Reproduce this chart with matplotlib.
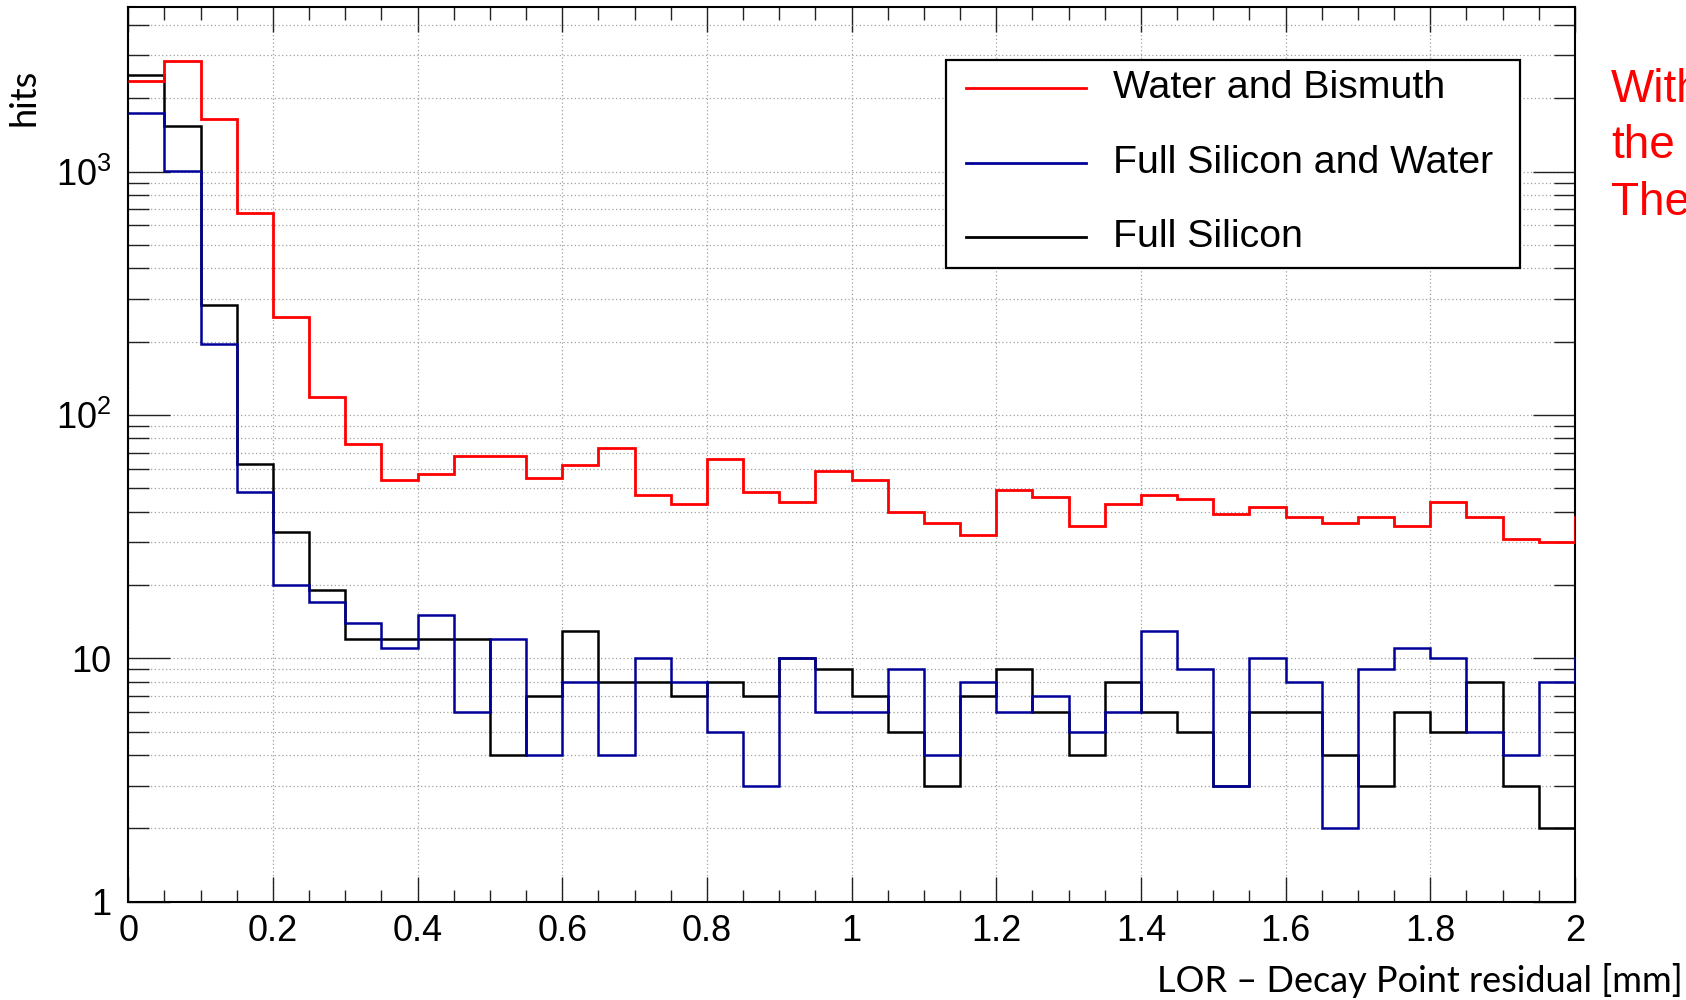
import numpy as np
import matplotlib
matplotlib.use("Agg")
import matplotlib.pyplot as plt
from matplotlib.ticker import FixedLocator, FuncFormatter, MultipleLocator
from matplotlib.lines import Line2D
from matplotlib.patches import Rectangle

plt.rcParams["font.family"] = ["Liberation Sans", "DejaVu Sans"]
plt.rcParams["mathtext.fontset"] = "custom"
plt.rcParams["mathtext.rm"] = "Liberation Sans"
plt.rcParams["mathtext.it"] = "Liberation Sans"
plt.rcParams["mathtext.bf"] = "Liberation Sans"

# ---- data: 0.05 mm bins from 0 to 2.05 (last bin lies beyond the axis range) ----
bin_width = 0.05
n_bins = 41
water_bismuth = [2345, 2834, 1648, 677, 253, 119, 76, 54, 57, 68,
                 68, 55, 62, 73, 47, 43, 66, 48, 44, 59,
                 54, 40, 36, 32, 49, 46, 35, 43, 47, 45,
                 39, 42, 38, 36, 38, 35, 44, 38, 31, 30,
                 38]
full_silicon_water = [1733, 1006, 195, 48, 20, 17, 14, 11, 15, 6,
                      12, 4, 8, 4, 10, 8, 5, 3, 10, 6,
                      6, 9, 4, 8, 6, 7, 5, 6, 13, 9,
                      3, 10, 8, 2, 9, 11, 10, 5, 4, 8,
                      10]
full_silicon = [2483, 1542, 284, 63, 33, 19, 12, 12, 12, 12,
                4, 7, 13, 8, 8, 7, 8, 7, 10, 9,
                7, 5, 3, 7, 9, 6, 4, 8, 6, 5,
                3, 6, 6, 4, 3, 6, 5, 8, 3, 2,
                2]
series_labels = ["Water and Bismuth", "Full Silicon and Water", "Full Silicon"]
y_tick_values = [1, 10, 100, 1000]
y_tick_labels = ["1", "10", "$10^{2}$", "$10^{3}$"]
x_tick_values = [0, 0.2, 0.4, 0.6, 0.8, 1.0, 1.2, 1.4, 1.6, 1.8, 2.0]
x_tick_labels = ["0", "0.2", "0.4", "0.6", "0.8", "1", "1.2", "1.4", "1.6", "1.8", "2"]

edges = np.arange(n_bins + 1) * bin_width

W, H = 1686, 1000
fig = plt.figure(figsize=(W / 100, H / 100), dpi=100)
L, R, T, B = 128.3, 1575.0, 6.7, 901.7
ax = fig.add_axes([L / W, 1 - B / H, (R - L) / W, (B - T) / H])

c_red = "#ff0000"
c_blue = "#000099"
c_black = "#000000"

ax.stairs(full_silicon, edges, baseline=None, color=c_black, lw=1.8, zorder=3)
ax.stairs(full_silicon_water, edges, baseline=None, color=c_blue, lw=1.8, zorder=4)
ax.stairs(water_bismuth, edges, baseline=None, color=c_red, lw=2.0, zorder=5)

ax.set_yscale("log")
ax.set_xlim(0, 2)
ax.set_ylim(1, 10 ** ((B - T) / 243.4))

ax.xaxis.set_major_locator(FixedLocator(x_tick_values))
ax.xaxis.set_minor_locator(MultipleLocator(0.05))
ax.set_xticklabels(x_tick_labels)
ax.yaxis.set_major_locator(FixedLocator(y_tick_values))
minor_y = [m * 10 ** d for d in range(0, 4) for m in range(2, 10)]
ax.yaxis.set_minor_locator(FixedLocator(minor_y))
ax.yaxis.set_major_formatter(FuncFormatter(lambda v, p: dict(zip(y_tick_values, y_tick_labels)).get(round(v), "")))
ax.yaxis.set_minor_formatter(FuncFormatter(lambda v, p: ""))

ax.tick_params(which="both", direction="in", top=True, right=True, width=1.0, color="#222222")
ax.tick_params(axis="x", which="major", length=18, labelsize=26, pad=9)
ax.tick_params(axis="x", which="minor", length=9)
ax.tick_params(axis="y", which="major", length=30, labelsize=26, pad=12)
ax.tick_params(axis="y", which="minor", length=15)

ax.grid(which="major", axis="x", color="#a0a0a0", linestyle=(0, (1, 2)), lw=0.9)
ax.grid(which="both", axis="y", color="#a0a0a0", linestyle=(0, (1, 2)), lw=0.9)
for s in ax.spines.values():
    s.set_linewidth(1.5)
    s.set_zorder(2)

# ---- legend box (ROOT style) ----
fig.add_artist(Rectangle((946 / W, 1 - 268 / H), (1520 - 946) / W, (268 - 60) / H,
                         transform=fig.transFigure, facecolor="white", edgecolor="black",
                         lw=1.6, zorder=10))
rows = [88, 163, 237]
for yy, lab, col in zip(rows, series_labels, [c_red, c_blue, c_black]):
    fig.add_artist(Line2D([966 / W, 1086 / W], [1 - yy / H, 1 - yy / H],
                          transform=fig.transFigure, color=col, lw=2.0, zorder=11))
    fig.text(1113 / W, 1 - yy / H, lab, fontsize=28.3, va="center", ha="left", zorder=12)

# ---- axis titles ----
fig.text(24 / W, 1 - 97 / H, "hits", rotation=90, fontsize=26, family=["Lato", "DejaVu Sans"],
         ha="center", va="center")
fig.text(1683 / W, 1 - 981 / H, "LOR \u2013 Decay Point residual [mm]", fontsize=26,
         family=["Lato", "DejaVu Sans"], ha="right", va="center")

# ---- red annotation (cut at the slide edge, as in the reference) ----
for yb, t in zip([101.7, 158, 215], ["With", "the", "The"]):
    fig.text(1611 / W, 1 - yb / H, t, color="#ff0000", fontsize=33, ha="left", va="baseline")

fig.savefig("out.png", dpi=100)
